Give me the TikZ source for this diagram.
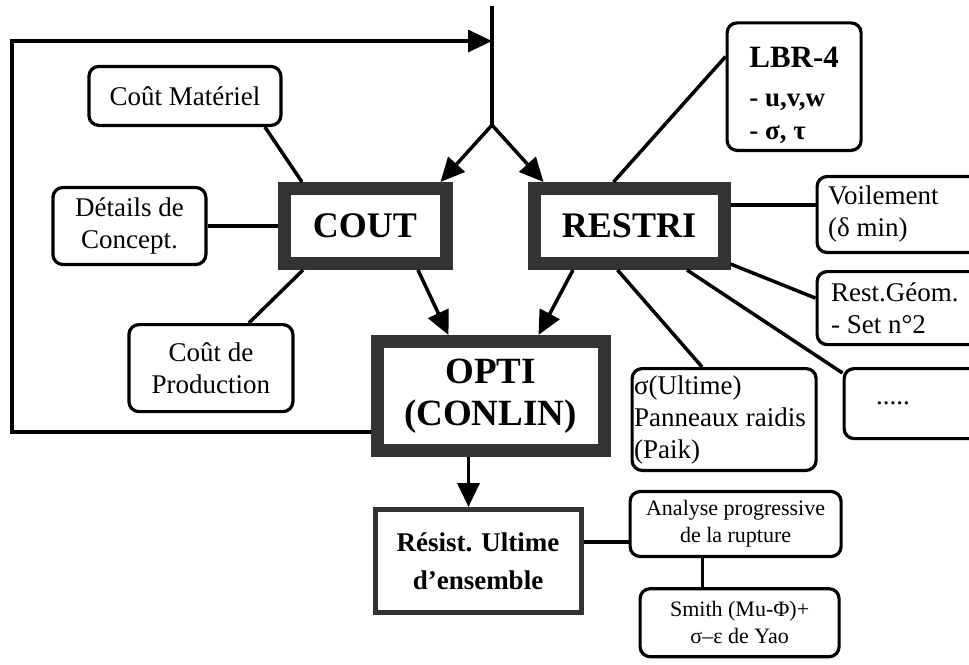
\documentclass[tikz,border=0pt]{standalone}
\usepackage{fontspec}
\setmainfont{Liberation Serif}
\usepackage{tikz}
\usetikzlibrary{positioning,arrows.meta}

\begin{document}
\begin{tikzpicture}[
	x=0.5pt, y=-0.5pt,
	mainbox/.style={
		rectangle,
		draw=black!80,
		line width=6.5pt,
		align=flush center,
		font=\fontsize{18}{21}\selectfont\bfseries
	},
	infobox/.style={
		rectangle,
		draw,
		rounded corners=5pt,
		line width=1.6pt,
		align=flush center,
		font=\fontsize{13.5}{16}\selectfont
	},
	sidebox/.style={
		infobox,
		align=flush left,
		inner xsep=5.5pt
	},
	flow/.style={
		line width=1.75pt,
		-{Triangle[length=12pt,width=11pt]}
	},
	link/.style={
		line width=1.75pt
	}
	]
	\clip (0,0) rectangle (969,664);
	
	% main boxes
	\node (cout) [mainbox, minimum width=81pt, minimum height=37.5pt] at (365,226) {COUT};
	\node (restri) [mainbox, minimum width=95pt, minimum height=37.5pt, right=37.5pt of cout] {RESTRI};
	\node (opti) [mainbox, font=\fontsize{18.5}{20}\selectfont\bfseries, minimum width=113.5pt, minimum height=54.5pt, below right=32.5pt and -41pt of cout] {OPTI\\[1pt](CONLIN)};
	\node (resist) [mainbox, line width=2.5pt, minimum width=103pt, minimum height=51.5pt, font=\fontsize{13.5}{19}\selectfont\bfseries, below=25pt of opti, xshift=-6.25pt] {Résist. Ultime\\d’ensemble};
	
	% cost side
	\node (material) [infobox, minimum width=96pt, minimum height=29.5pt, above left=27.5pt and -2.5pt of cout] {Coût Matériel};
	\node (concept) [infobox, minimum width=76.5pt, minimum height=38.5pt, left=35pt of cout] {Détails de\\Concept.};
	\node (production) [infobox, minimum width=82pt, minimum height=43.5pt, below left=26.5pt and -8.5pt of cout] {Coût de\\Production};
	\draw[link] (material.south) ++(40pt,0) -- ([xshift=-31.5pt]cout.north);
	\draw[link] (concept.east) -- (concept.east -| cout.west);
	\draw[link] ([xshift=19pt]production.north) -- ([xshift=-31pt]cout.south);
	
	% constraints side
	\node (lbr) [infobox, align=flush left, font=\fontsize{13.5}{16.5}\selectfont\bfseries, minimum width=67pt, minimum height=62pt, above right=15pt and -2.5pt of restri] {\fontsize{15.5}{18}\selectfont\rule{0pt}{19pt}LBR-4\\[3pt]\fontsize{13.5}{16.5}\selectfont - u,v,w\\\fontsize{13.5}{16.5}\selectfont - σ, τ};
	\node (buckling) [sidebox, text width=78pt, minimum height=38pt, right=42.5pt of restri, yshift=5.75pt] {Voilement\\(δ min)};
	\node (geom) [sidebox, inner xsep=7pt, text width=76pt, minimum height=36.5pt, below right=0pt and 42.5pt of restri] {Rest.Géom.\\- Set n°2};
	\node (more) [sidebox, inner xsep=16pt, text width=45pt, minimum height=35pt, below right=48.5pt and 56pt of restri] {.....};
	\node (ultimate) [sidebox, inner xsep=1pt, text width=90pt, minimum height=49.5pt, below right=48.5pt and -50pt of restri] {σ(Ultime)\\Panneaux raidis\\(Paik)};
	\draw[link] ([yshift=15pt]lbr.west) -- ([xshift=-7.75pt]restri.north);
	\draw[link] ([yshift=10.5pt]restri.east) -- ([yshift=4.75pt]buckling.west);
	\draw[link] ([yshift=3pt]restri.south east) -- ([yshift=5pt]geom.west);
	\draw[link] ([xshift=29pt]restri.south) -- ([yshift=-3pt]more.north west);
	\draw[link] ([xshift=-5.75pt]restri.south) -- ([xshift=-11pt]ultimate.north);
	
	% input and loop back
	\coordinate (entry) at (492,6);
	\coordinate (fork) at (492,125);
	\coordinate (feed) at (492,41);
	\coordinate (loop) at (12,41);
	\draw[link] (entry) -- (fork);
	\draw[flow] (fork) -- ([xshift=-6pt]cout.north east);
	\draw[flow] (fork) -- ([xshift=8pt]restri.north west);
	\draw[flow] ([yshift=-18pt]opti.west) -| (loop) -- (feed);
	
	% optimisation
	\draw[flow] ([xshift=26.5pt]cout.south) -- ([xshift=-21pt]opti.north);
	\draw[flow] ([xshift=-28pt]restri.south) -- ([xshift=24pt]opti.north);
	\draw[flow] ([xshift=-11pt]opti.south) -- ([xshift=-11pt]opti.south |- resist.north);
	
	% ultimate strength
	\node (progressive) [infobox, font=\fontsize{11}{13.5}\selectfont, minimum width=105.5pt, minimum height=32.5pt, right=22.5pt of resist, yshift=18.5pt] {Analyse progressive\\de la rupture};
	\node (smith) [infobox, font=\fontsize{11}{13.5}\selectfont, minimum width=99.5pt, minimum height=34pt, below=14.5pt of progressive, xshift=2pt] {Smith (Mu-Φ)+\\σ–ε de Yao};
	\draw[link] ([yshift=9.5pt]resist.east) -- ([yshift=9.5pt]resist.east -| progressive.west);
	\draw[link] ([xshift=-16.5pt]progressive.south) -- ([xshift=-16.5pt]progressive.south |- smith.north);
	
\end{tikzpicture}
\end{document}
